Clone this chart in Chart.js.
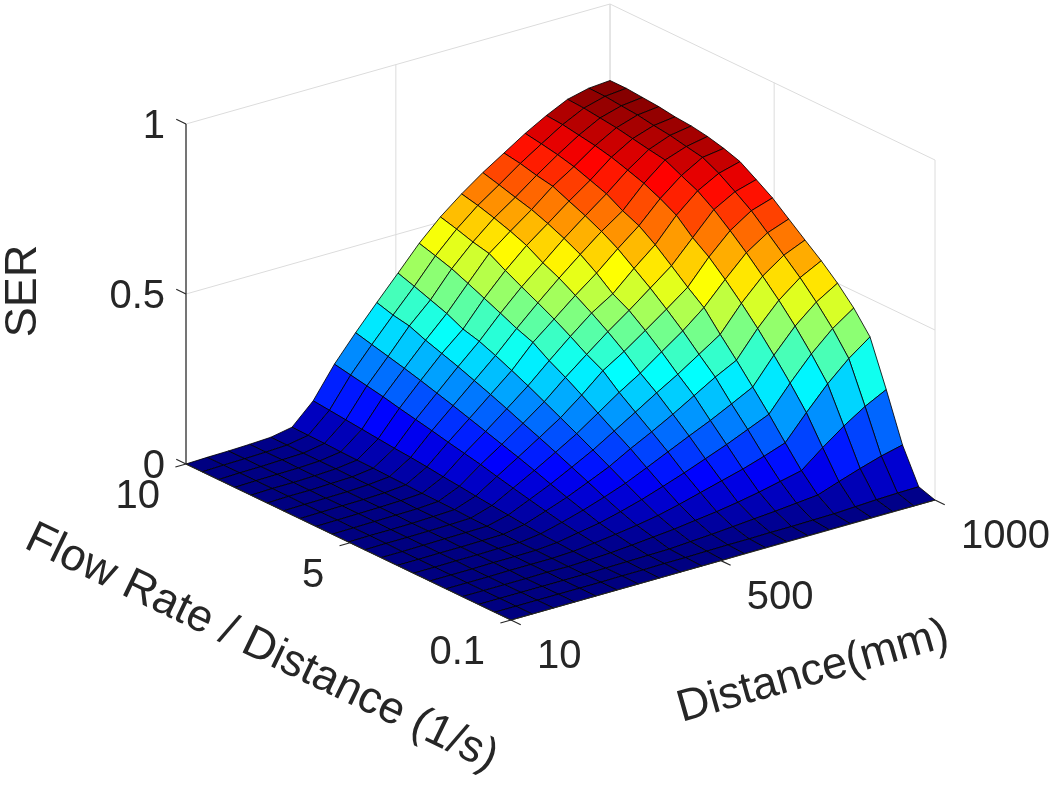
<!DOCTYPE html>
<html>
<head>
<meta charset="utf-8">
<script src="https://cdn.jsdelivr.net/npm/chart.js@4.4.0/dist/chart.umd.min.js"></script>
<style>
  html, body { margin: 0; padding: 0; background: #ffffff; }
  #wrap { width: 1050px; height: 789px; position: relative; }
</style>
</head>
<body>
<div id="wrap"><canvas id="chart"></canvas></div>
<script>
// ---------------- data ----------------
const distances = [10, 59.5, 109, 158.5, 208, 257.5, 307, 356.5, 406, 455.5, 505, 554.5, 604, 653.5, 703, 752.5, 802, 851.5, 901, 950.5, 1000];
const flowRates = [0.1, 0.595, 1.09, 1.585, 2.08, 2.575, 3.07, 3.565, 4.06, 4.555, 5.05, 5.545, 6.04, 6.535, 7.03, 7.525, 8.02, 8.515, 9.01, 9.505, 10];
// SER[i][j] : distance i, flow rate / distance j
const SER = [
  [0,0,0,0,0,0,0,0,0,0,0,0,0,0,0,0,0,0,0,0,0],
  [0,0,0,0,0,0,0,0,0,0.001,0.001,0.001,0.001,0.001,0.001,0.002,0.002,0.002,0.002,0.002,0.002],
  [0,0,0,0,0,0,0.001,0.001,0.001,0.001,0.001,0.002,0.002,0.002,0.002,0.002,0.002,0.003,0.003,0.003,0.003],
  [0,0,0,0,0.001,0.001,0.001,0.001,0.002,0.002,0.002,0.003,0.003,0.003,0.003,0.004,0.004,0.004,0.005,0.005,0.005],
  [0,0,0,0.001,0.001,0.001,0.002,0.002,0.003,0.003,0.004,0.004,0.005,0.005,0.006,0.006,0.007,0.007,0.007,0.008,0.008],
  [0,0,0,0,0.001,0.002,0.002,0.003,0.004,0.005,0.007,0.008,0.009,0.011,0.012,0.014,0.015,0.016,0.018,0.019,0.020],
  [0,0.001,0.001,0.002,0.004,0.007,0.010,0.014,0.019,0.024,0.029,0.035,0.040,0.046,0.051,0.055,0.060,0.065,0.070,0.075,0.080],
  [0,0.001,0.002,0.005,0.011,0.018,0.026,0.036,0.047,0.058,0.069,0.081,0.091,0.101,0.112,0.122,0.132,0.143,0.152,0.161,0.170],
  [0,0.002,0.003,0.010,0.019,0.029,0.044,0.059,0.075,0.092,0.108,0.123,0.138,0.153,0.168,0.182,0.196,0.209,0.221,0.233,0.245],
  [0,0.002,0.004,0.016,0.028,0.045,0.065,0.086,0.107,0.128,0.148,0.167,0.187,0.206,0.224,0.242,0.258,0.274,0.293,0.302,0.316],
  [0,0.003,0.008,0.022,0.039,0.063,0.088,0.114,0.140,0.165,0.189,0.213,0.237,0.259,0.280,0.299,0.312,0.335,0.352,0.369,0.385],
  [0.001,0.004,0.012,0.030,0.054,0.084,0.116,0.149,0.178,0.208,0.238,0.267,0.293,0.324,0.342,0.364,0.385,0.406,0.426,0.441,0.455],
  [0.001,0.004,0.017,0.038,0.071,0.106,0.145,0.181,0.216,0.251,0.292,0.317,0.347,0.375,0.400,0.424,0.449,0.476,0.487,0.502,0.515],
  [0.001,0.005,0.022,0.048,0.088,0.130,0.174,0.215,0.255,0.290,0.331,0.366,0.398,0.427,0.455,0.477,0.505,0.524,0.540,0.554,0.565],
  [0.001,0.005,0.027,0.060,0.105,0.154,0.202,0.252,0.292,0.335,0.375,0.411,0.437,0.475,0.507,0.531,0.552,0.570,0.583,0.597,0.610],
  [0.001,0.006,0.033,0.074,0.125,0.181,0.233,0.289,0.333,0.379,0.420,0.459,0.494,0.529,0.557,0.580,0.600,0.621,0.630,0.642,0.650],
  [0.001,0.007,0.039,0.088,0.147,0.208,0.265,0.321,0.374,0.430,0.467,0.507,0.546,0.579,0.600,0.627,0.644,0.661,0.673,0.682,0.690],
  [0.001,0.010,0.061,0.138,0.218,0.282,0.341,0.397,0.448,0.495,0.538,0.572,0.615,0.641,0.663,0.679,0.694,0.705,0.713,0.721,0.725],
  [0.001,0.013,0.082,0.184,0.285,0.350,0.409,0.462,0.510,0.556,0.598,0.637,0.669,0.691,0.714,0.722,0.731,0.740,0.746,0.752,0.755],
  [0,0.015,0.101,0.224,0.342,0.407,0.462,0.511,0.554,0.597,0.639,0.672,0.703,0.727,0.736,0.746,0.752,0.760,0.764,0.769,0.770],
  [0,0.016,0.116,0.256,0.388,0.450,0.500,0.543,0.581,0.620,0.659,0.690,0.720,0.736,0.748,0.756,0.760,0.767,0.771,0.775,0.775]
];
const distanceTicks = [10, 500, 1000];
const flowTicks = [0.1, 5, 10];
const serTicks = [0, 0.5, 1];
const distanceTickLabels = ['10', '500', '1000'];
const flowTickLabels = ['0.1', '5', '10'];
const serTickLabels = ['0', '0.5', '1'];
const distanceTitle = 'Distance(mm)';
const flowTitle = 'Flow Rate / Distance (1/s)';
const serTitle = 'SER';

// ---------------- axis limits & view ----------------
const DMIN = 10, DMAX = 1000, FMIN = 0.1, FMAX = 10, ZMIN = 0, ZMAX = 1;
// orthographic view expressed in the (hidden) chart plane units
const VIEW = {
  origin: [511, 620],      // front-bottom corner
  uDir: [424, -120],       // distance axis direction (full range)
  vDir: [-325, -156],      // flow axis direction (full range)
  wDir: [0, -340],         // SER axis direction (full range)
  depthU: Math.sin(37.5 * Math.PI / 180),
  depthV: Math.cos(37.5 * Math.PI / 180)
};
const TEXT = '#262626';
const FONT = '"Liberation Sans", Arial, Helvetica, sans-serif';
const TICK_FONT_PX = 40;
const LABEL_FONT_PX = 45;

function norm(d, f, z) {
  return [(d - DMIN) / (DMAX - DMIN), (f - FMIN) / (FMAX - FMIN), (z - ZMIN) / (ZMAX - ZMIN)];
}
function project(chart, d, f, z) {
  const [u, v, w] = norm(d, f, z);
  const X = VIEW.origin[0] + VIEW.uDir[0] * u + VIEW.vDir[0] * v + VIEW.wDir[0] * w;
  const Y = VIEW.origin[1] + VIEW.uDir[1] * u + VIEW.vDir[1] * v + VIEW.wDir[1] * w;
  return [chart.scales.x.getPixelForValue(X), chart.scales.y.getPixelForValue(Y)];
}
function jet(c) {
  c = Math.max(0, Math.min(1, c));
  const cl = t => Math.max(0, Math.min(1, t));
  const r = cl(Math.min(4 * c - 1.5, -4 * c + 4.5));
  const g = cl(Math.min(4 * c - 0.5, -4 * c + 3.5));
  const b = cl(Math.min(4 * c + 0.5, -4 * c + 2.5));
  return `rgb(${Math.round(r * 255)},${Math.round(g * 255)},${Math.round(b * 255)})`;
}

const surfacePlugin = {
  id: 'surface3d',
  afterDraw(chart) {
    const ctx = chart.ctx;
    const P = (d, f, z) => project(chart, d, f, z);
    const line = (a, b) => { ctx.beginPath(); ctx.moveTo(a[0], a[1]); ctx.lineTo(b[0], b[1]); ctx.stroke(); };
    ctx.save();

    // ---- back walls, floor grid and box (light grey) ----
    ctx.strokeStyle = '#dcdcdc';
    ctx.lineWidth = 1;
    for (const z of serTicks) line(P(DMIN, FMAX, z), P(DMAX, FMAX, z));
    for (const d of distanceTicks) line(P(d, FMAX, ZMIN), P(d, FMAX, ZMAX));
    for (const z of serTicks) line(P(DMAX, FMIN, z), P(DMAX, FMAX, z));
    for (const f of flowTicks) line(P(DMAX, f, ZMIN), P(DMAX, f, ZMAX));
    for (const d of distanceTicks) line(P(d, FMIN, ZMIN), P(d, FMAX, ZMIN));
    for (const f of flowTicks) line(P(DMIN, f, ZMIN), P(DMAX, f, ZMIN));

    // ---- surface ----
    let cmin = Infinity, cmax = -Infinity;
    SER.forEach(row => row.forEach(v => { cmin = Math.min(cmin, v); cmax = Math.max(cmax, v); }));
    const quads = [];
    for (let i = 0; i < distances.length - 1; i++) {
      for (let j = 0; j < flowRates.length - 1; j++) {
        const [u, v] = norm((distances[i] + distances[i + 1]) / 2, (flowRates[j] + flowRates[j + 1]) / 2, 0);
        quads.push({ i, j, depth: VIEW.depthU * u + VIEW.depthV * v });
      }
    }
    quads.sort((a, b) => b.depth - a.depth);
    ctx.lineJoin = 'round';
    ctx.lineWidth = 0.9;
    ctx.strokeStyle = 'rgba(0,0,0,0.92)';
    for (const q of quads) {
      const { i, j } = q;
      const corners = [[i, j], [i + 1, j], [i + 1, j + 1], [i, j + 1]];
      const pts = corners.map(([a, b]) => P(distances[a], flowRates[b], SER[a][b]));
      const mean = corners.reduce((s, [a, b]) => s + SER[a][b], 0) / 4;
      ctx.beginPath();
      ctx.moveTo(pts[0][0], pts[0][1]);
      for (let k = 1; k < 4; k++) ctx.lineTo(pts[k][0], pts[k][1]);
      ctx.closePath();
      ctx.fillStyle = jet((mean - cmin) / (cmax - cmin));
      ctx.fill();
      ctx.stroke();
    }

    // ---- front axes ----
    ctx.strokeStyle = TEXT;
    ctx.lineWidth = 1.2;
    line(P(DMIN, FMAX, ZMIN), P(DMIN, FMAX, ZMAX));
    line(P(DMIN, FMIN, ZMIN), P(DMIN, FMAX, ZMIN));
    line(P(DMIN, FMIN, ZMIN), P(DMAX, FMIN, ZMIN));

    const dSpan = DMAX - DMIN, fSpan = FMAX - FMIN;
    ctx.fillStyle = TEXT;
    ctx.font = `${TICK_FONT_PX}px ${FONT}`;
    ctx.textBaseline = 'alphabetic';
    const half = TICK_FONT_PX * 0.358;

    // SER ticks
    ctx.textAlign = 'right';
    serTicks.forEach((z, k) => {
      const a = P(DMIN, FMAX, z), b = P(DMIN, FMAX + 0.03 * fSpan, z);
      line(a, b);
      ctx.fillText(serTickLabels[k], a[0] - 21, a[1] + half);
    });
    // flow ticks
    flowTicks.forEach((f, k) => {
      const a = P(DMIN, f, ZMIN), b = P(DMIN - 0.025 * dSpan, f, ZMIN);
      line(a, b);
      ctx.fillText(flowTickLabels[k], a[0] - 26, a[1] + 30 + half);
    });
    // distance ticks
    ctx.textAlign = 'left';
    distanceTicks.forEach((d, k) => {
      const a = P(d, FMIN, ZMIN), b = P(d, FMIN - 0.03 * fSpan, ZMIN);
      line(a, b);
      ctx.fillText(distanceTickLabels[k], a[0] + 26, a[1] + 34 + half);
    });

    // ---- axis titles ----
    ctx.font = `${LABEL_FONT_PX}px ${FONT}`;
    ctx.textAlign = 'center';
    ctx.textBaseline = 'middle';
    const drawRot = (txt, p, ang) => {
      ctx.save(); ctx.translate(p[0], p[1]); ctx.rotate(ang); ctx.fillText(txt, 0, 0); ctx.restore();
    };
    const f0 = P(DMIN, FMIN, ZMIN), dEnd = P(DMAX, FMIN, ZMIN), fEnd = P(DMIN, FMAX, ZMIN);
    const dAng = Math.atan2(dEnd[1] - f0[1], dEnd[0] - f0[0]);
    const fAng = Math.atan2(f0[1] - fEnd[1], f0[0] - fEnd[0]);
    const dMid = [(f0[0] + dEnd[0]) / 2, (f0[1] + dEnd[1]) / 2];
    const fMid = [(f0[0] + fEnd[0]) / 2, (f0[1] + fEnd[1]) / 2];
    drawRot(distanceTitle, [dMid[0] + 90, dMid[1] + 112], dAng);
    drawRot(flowTitle, [fMid[0] - 87, fMid[1] + 106], fAng);
    const zMid = P(DMIN, FMAX, (ZMIN + ZMAX) / 2);
    drawRot(serTitle, [zMid[0] - 162, zMid[1] - 3], -Math.PI / 2);

    ctx.restore();
  }
};

new Chart(document.getElementById('chart'), {
  type: 'scatter',
  data: { datasets: [] },
  options: {
    responsive: true,
    maintainAspectRatio: false,
    animation: false,
    layout: { padding: 0 },
    plugins: { legend: { display: false }, tooltip: { enabled: false } },
    scales: {
      x: { type: 'linear', min: 0, max: 1050, display: false },
      y: { type: 'linear', min: 0, max: 789, reverse: true, display: false }
    }
  },
  plugins: [surfacePlugin]
});
</script>
</body>
</html>
